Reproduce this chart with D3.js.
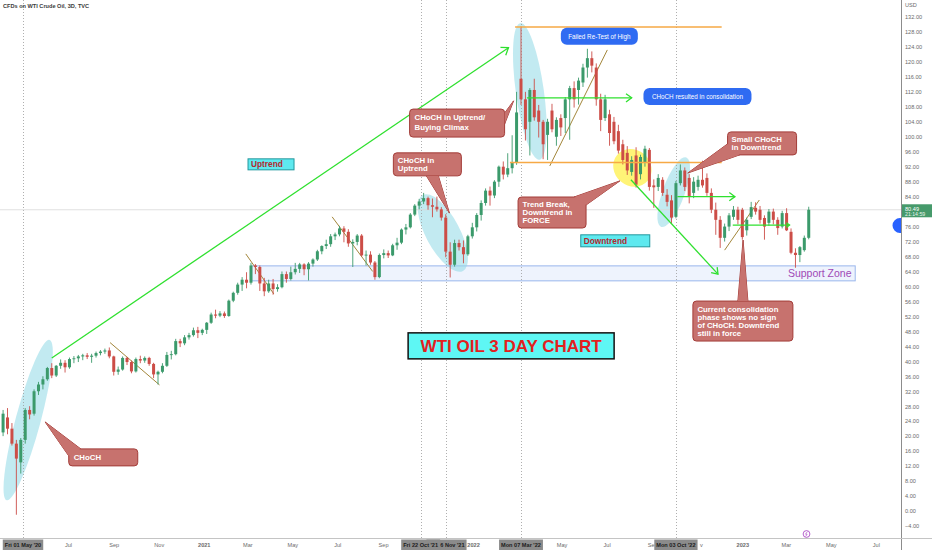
<!DOCTYPE html>
<html><head><meta charset="utf-8">
<script src="https://cdn.jsdelivr.net/npm/d3@7"></script>
<style>
html,body{margin:0;padding:0;background:#fff;}
svg{display:block;font-family:"Liberation Sans",Arial,sans-serif;}
</style></head><body>
<svg id="c" width="932" height="550"></svg>
<script>
// ---------------- DATA ----------------
const title = "CFDs on WTI Crude Oil, 3D, TVC";
const FIRST_BAR = "2020-04-04";   // open time of the first 3D bar shown
const BAR_DAYS = 6;               // calendar spacing of bars on the time axis
// [open, high, low, close]
const ohlc = [
[21,27,20,26],[25,27.5,20.5,22],[22,23.5,17.5,18],[18,19,-1,14],[13,19.5,10,19],[19,27.5,18,27],[27,28,24.5,25.8],[26,32.5,25.5,32],[32,34.5,31,33.8],[33.8,36,32.5,35.2],
[35.2,38.5,34.8,38.2],[38.2,39.5,35.5,36.2],[36.2,39,35.8,38.8],[38.8,40.5,38,39.6],[39.6,40.3,37,38.4],[38.4,41,38,40.6],[40.6,41.4,39.5,40.8],[40.8,41.7,39.8,41.3],[41.3,42,40.3,41.6],[41.6,42.2,40.6,41.2],
[41.2,42,39.6,41.5],[41.5,42.6,41,42.2],[42.2,43,41.6,42.6],[42.6,43.4,42,42.9],[42.9,43.7,40.8,41.3],[41.3,41.5,36.2,37.2],[37.2,38.6,36.4,37.8],[37.8,41.3,37.5,40.9],[40.9,41.2,39,39.8],[39.8,40.2,36.8,37.3],
[37.3,41,37,40.6],[40.6,41.5,39.5,40.2],[40.2,41.3,39.6,40.9],[40.9,41.2,38.8,39.3],[39.3,39.6,35.5,36.5],[36.5,37.5,33.8,37.2],[37.2,39.5,36.8,38.8],[38.8,42.5,38.5,41.7],[41.7,42.8,40.5,41.9],[41.9,46,41.6,45.4],
[45.4,46,43.8,44.8],[44.8,47,44.3,46.4],[46.4,47.6,45.8,47],[47,49,46.6,48.3],[48.3,49.2,46.2,47.6],[47.6,48.7,47,48.4],[48.4,50.5,47.3,50.3],[50.3,53,50,52.5],[52.5,53.8,51.5,52.2],[52.2,53.4,51.8,52.8],
[52.8,53.3,51.6,52.1],[52.1,56.5,51.9,56.2],[56.2,58.6,55.8,58.3],[58.3,61,57.8,60.5],[60.5,62.5,58.8,61.8],[61.8,63.8,59.5,61],[61,66.3,60.5,65.6],[65.6,66,63.3,65.2],[65.2,65.6,58.8,60.8],[60.8,62.3,57.4,58.7],
[58.7,61.8,58.3,60.8],[60.8,62,57.8,59.3],[59.3,60.6,58.6,59.8],[59.8,64,59.5,63.3],[63.3,64,61,62],[62,65.3,61.6,63.8],[63.8,66.3,63.2,64.7],[64.7,66.3,63.6,65.9],[65.9,66.2,63,64.6],[64.6,66.5,61.6,66.1],
[66.1,67.5,65.3,67.2],[67.2,69.8,66.8,69.4],[69.4,71,68.6,70.8],[70.8,72.5,70,71.3],[71.3,74,70.6,73.4],[73.4,74.4,72.4,73.9],[73.9,76.2,73.4,75.5],[75.5,76.1,71.8,74.6],[74.6,75.3,70.6,71.5],[71.5,72.6,65.2,71.9],
[71.9,74,71,73.6],[73.6,74,68,68.3],[68.3,69.6,65.6,68.5],[68.5,69.4,65.8,66.4],[66.4,66.8,61.8,62.5],[62.5,68.8,62.2,68.4],[68.4,69.9,67.5,68.9],[68.9,69.6,67.6,68.3],[68.3,71.4,68.1,71],[71,73,69.8,71.7],
[71.7,75.5,71.3,75.2],[75.2,76.7,73.9,75.8],[75.8,79.6,75.5,79.2],[79.2,82,78.8,81.6],[81.6,83.4,80.6,82.7],[82.7,85,82,83.6],[83.6,84,80.5,81.7],[81.7,83.5,78.5,81.3],[81.3,84,80,80.6],[80.6,81.2,77.6,78.4],
[78.4,79.3,67.8,69.3],[69.3,71.8,62.4,65.8],[65.8,72.5,65.3,71.6],[71.6,72.5,69.6,70.5],[70.5,72.3,66.2,68.6],[68.6,73.8,68.2,73.4],[73.4,77,72.8,75.8],[75.8,79.6,74.7,79.1],[79.1,83,77.6,82.3],[82.3,86.2,81.6,85.6],
[85.6,86.7,81.6,84.3],[84.3,88.4,83.6,88],[88,92.3,86.6,92],[92,93.4,88.6,89.9],[89.9,95.6,89.2,91.6],[91.6,100.4,90.2,93],[93,112,92.5,106.5],[115.5,129.5,108.5,110],[110,112,99,102],[104,113,95,112.5],
[112.5,115.5,104.3,105.2],[107,108.5,99.8,104],[104,104.5,94,98],[100.5,104.8,93.8,104],[107,108.8,101.2,102],[100,105.2,97.6,104.5],[105,106,100.2,102.5],[105,110.6,101,110],[110,113.6,99.2,113],[113,114.8,107.8,110],
[112.5,115.8,108.6,115],[114.5,119.5,113.3,118.5],[118.5,123.5,115.8,121],[121,122.8,117.2,119],[118.5,119.6,108.3,110],[110,111.5,101.5,104.5],[105,111.2,104.2,110],[106,107.2,97.6,101],[104,105.3,98,98.8],[101.5,103.2,95.5,96.3],
[98,99.2,92.6,93.8],[95.7,97.5,89.8,91],[90.6,94.8,89.6,93.8],[95,97.2,86.4,87.2],[90,95.2,88.6,94.6],[93,97.6,92,96.8],[96.5,97,85.6,86.6],[87,88.6,81,86.5],[86.6,90,85.5,89],[88.5,89.2,84.2,85],
[84.5,86,81.4,82.6],[83,84.4,76.8,78.4],[78.6,88.2,78.2,87.6],[87.6,92.6,87,91],[91,91.8,85.5,86.6],[89,90,82.2,84],[85,89.2,83.6,88],[86.6,89.6,85.6,88.5],[88.5,93.6,86.4,87],[89,90.2,84.2,85],
[85,86.2,79.6,80.5],[80.5,82.4,73.8,77.8],[77.8,78.8,70.3,73],[73,76.8,72,76],[76,79.6,74.8,79],[78.6,81.5,77.8,80.5],[80.5,81.3,76.6,77.8],[80.5,81,72.5,73.2],[75,78.4,73.6,77.8],[78.6,82.6,78,81.2],
[81,82.5,79.2,80],[80.5,81.5,76.8,77.8],[78.3,79,72.5,76],[77,80.7,76.2,80],[80,80.8,76.6,77.8],[77.8,78.5,73.8,75.6],[76,80.2,75.5,79.6],[79.6,80.9,74.8,75],[74.6,75.5,68.6,69],[69,70.2,65,68.4],
[68.4,70.8,66.5,70.5],[69.7,73.6,69.3,73],[73,81.3,72.6,80.5]
];
const lastPrice = 80.49;
const countdown = "21:14:59";
const priceTicks = [-4,0,4,8,12,16,20,24,28,32,36,40,44,48,52,56,60,64,68,72,76,84,88,92,96,100,104,108,112,116,120,124,128,132];
const timeTicks = [["2020-07-01","Jul"],["2020-09-01","Sep"],["2020-11-01","Nov"],["2021-01-01","2021"],["2021-03-01","Mar"],["2021-05-01","May"],["2021-07-01","Jul"],["2021-09-01","Sep"],["2021-11-01","Nov"],["2022-01-01","2022"],["2022-03-01","Mar"],["2022-05-01","May"],["2022-07-01","Jul"],["2022-09-01","Sep"],["2022-11-01","Nov"],["2023-01-01","2023"],["2023-03-01","Mar"],["2023-05-01","May"],["2023-07-01","Jul"]];
// drawn in this order (later ones on top)
const markedDates = [["2020-05-01","Fri 01 May '20"],["2021-11-26","Fri 26 Nov '21"],["2021-10-22","Fri 22 Oct '21"],["2022-03-07","Mon 07 Mar '22"],["2022-10-03","Mon 03 Oct '22"]];

// annotations, in (date, price) coordinates
const supportZone = {from:"2021-03-07", to:"2023-06-03", low:61.5, high:65.5, label:"Support Zone", labelAt:["2023-05-29",62.5]};
const greenArrows = [
  [["2020-06-09",40.9],["2022-02-18",123.8],8],
  [["2022-03-15",110.4],["2022-08-04",110.4],7],
  [["2022-08-03",88.5],["2022-11-29",63.3],7],
  [["2022-10-05",84],["2022-12-22",84],7],
  [["2022-12-19",76.4],["2023-03-06",76.4],4]
];
const orangeLines = [[["2022-02-27",129.3],["2022-12-04",129.3]],[["2022-02-20",93.1],["2022-12-04",93.1]]];
const trendLines = [
  [["2020-08-27",45],["2020-11-02",33.7]],
  [["2021-02-27",68.7],["2021-04-06",58]],
  [["2021-06-24",78.6],["2021-08-18",64]],
  [["2022-04-15",92.2],["2022-07-02",123.2]],
  [["2022-12-08",69.7],["2023-01-24",83.1]]
];
const ellipses = [ // center, rx, ry, rotation, colour
  [["2020-05-08",24.3],83,12.5,-75,"#8fd8e6"],
  [["2021-11-21",74.3],43,17,62,"#8fd8e6"],
  [["2022-03-19",112.1],69,14,82,"#8fd8e6"],
  [["2022-09-30",85.2],37,11,-70,"#8fd8e6"],
  [["2022-08-05",91.7],20,18,40,"#fff04a"]
];
const callouts = [ // top-left, w, h, tip, pointer base (px offsets), lines
  {tl:["2020-07-02",16.6], w:69,h:17, tip:["2020-05-31",23.8], base:[[0,7],[12,0]], lines:["CHoCH"], pad:5, first:11.3, lh:8},
  {tl:["2021-10-07",107.4], w:95,h:28, tip:["2022-02-25",109.6], base:[[95,4],[95,15]], lines:["CHoCH in Uptrend/","Buying Climax"], pad:5, first:11,lh:9.5},
  {tl:["2021-09-15",95.7], w:68,h:23, tip:["2021-11-30",79.6], base:[[33,23],[45,23]], lines:["CHoCH in","Uptrend"], pad:4.5, first:10.5, lh:7.7},
  {tl:["2022-03-03",83.9], w:68,h:31, tip:["2022-07-19",88.2], base:[[56,0],[68,8]], lines:["Trend Break,","Downtrend in","FORCE"], pad:4.5, first:9.8, lh:8},
  {tl:["2022-12-12",101.3], w:69,h:23, tip:["2022-10-19",90.3], base:[[0,12],[12,23]], lines:["Small CHoCH","in Downtrend"], pad:4, first:10, lh:8},
  {tl:["2022-10-26",56.1], w:100,h:40, tip:["2023-01-02",72.4], base:[[45,0],[55,0]], lines:["Current consolidation","phase shows no sign","of CHoCH. Downtrend","still in force"], pad:4.5, first:11, lh:8}
];
const bluePills = [
  {tl:["2022-04-30",129.1], w:77,h:17, text:"Failed Re-Test of High"},
  {tl:["2022-08-20",113], w:108,h:17, text:"CHoCH resulted in consolidation"}
];
const cyanLabels = [
  {tl:["2021-03-02",94.1], w:46,h:11, text:"Uptrend", fs:8.3},
  {tl:["2022-05-27",73.8], w:69,h:12, text:"Downtrend", fs:8.3}
];
const bigTitle = {tl:["2021-10-05",47.6], w:206, h:26, text:"WTI OIL 3 DAY CHART"};
const verticalMarks = ["2020-05-01","2021-10-22","2021-11-26","2022-03-07","2022-10-03"];

// ---------------- SCALES ----------------
const svg = d3.select("#c");
const PR = 901, PB = 538;
const parse = d3.utcParse("%Y-%m-%d");
const x = d3.scaleUtc().domain([parse("2020-05-01"), parse("2022-03-07")]).range([23, 521]);
const y = d3.scaleLinear().domain([0, 132]).range([511, 17]);
const at = (d, p) => [x(parse(d)), y(p)];
const first = parse(FIRST_BAR);
const bars = ohlc.map((v, i) => ({t: d3.utcDay.offset(first, i * BAR_DAYS), o:v[0], h:v[1], l:v[2], c:v[3]}));

svg.append("rect").attr("width",932).attr("height",550).attr("fill","#fff");
svg.append("defs").append("clipPath").attr("id","plot").append("rect").attr("width",PR).attr("height",PB);
const plot = svg.append("g").attr("clip-path","url(#plot)");

// support zone
{
  const a = at(supportZone.from, supportZone.high), b = at(supportZone.to, supportZone.low);
  plot.append("rect").attr("x",a[0]).attr("y",a[1]).attr("width",b[0]-a[0]).attr("height",b[1]-a[1])
    .attr("fill","rgba(90,140,240,0.10)").attr("stroke","#9ab6ec").attr("stroke-width",1);
}
// ellipses
ellipses.forEach(e => {
  const c = at(...e[0]);
  plot.append("ellipse").attr("cx",c[0]).attr("cy",c[1]).attr("rx",e[1]).attr("ry",e[2])
    .attr("transform",`rotate(${e[3]} ${c[0]} ${c[1]})`).attr("fill",e[4]).attr("opacity", e[4]==="#fff04a"?0.75:0.55);
});
// vertical dotted marks
verticalMarks.forEach(d => {
  const xx = Math.round(x(parse(d))) + 0.5;
  plot.append("line").attr("x1",xx).attr("x2",xx).attr("y1",0).attr("y2",PB)
    .attr("stroke","#9a9a9a").attr("stroke-width",0.8).attr("stroke-dasharray","1,2");
});
// last price line
plot.append("line").attr("x1",0).attr("x2",PR).attr("y1",y(lastPrice)).attr("y2",y(lastPrice))
  .attr("stroke","#d8d8d8").attr("stroke-width",0.8);

// trend lines (brown)
trendLines.forEach(l => {
  const a = at(...l[0]), b = at(...l[1]);
  plot.append("line").attr("x1",a[0]).attr("y1",a[1]).attr("x2",b[0]).attr("y2",b[1])
    .attr("stroke","#a3863a").attr("stroke-width",1);
});

// candles
const UP = "#3b9a6b", DN = "#cc4d47", bw = 3;
const cg = plot.append("g");
cg.selectAll("line").data(bars).join("line")
  .attr("x1",d=>x(d.t)).attr("x2",d=>x(d.t)).attr("y1",d=>y(d.h)).attr("y2",d=>y(d.l))
  .attr("stroke",d=>d.c>=d.o?UP:DN).attr("stroke-width",0.9);
cg.selectAll("rect").data(bars).join("rect")
  .attr("x",d=>x(d.t)-bw/2).attr("width",bw)
  .attr("y",d=>y(Math.max(d.o,d.c))).attr("height",d=>Math.max(0.9, Math.abs(y(d.o)-y(d.c))))
  .attr("fill",d=>d.c>=d.o?UP:DN);

// orange lines
orangeLines.forEach(l => {
  const a = at(...l[0]), b = at(...l[1]);
  plot.append("line").attr("x1",a[0]).attr("y1",a[1]).attr("x2",b[0]).attr("y2",b[1])
    .attr("stroke","#f6a945").attr("stroke-width",1.5);
});
// green arrows
function arrow(p0, p1, head){
  const g = plot.append("g").attr("stroke","#2fe02f").attr("stroke-width",1.3).attr("fill","none");
  g.append("line").attr("x1",p0[0]).attr("y1",p0[1]).attr("x2",p1[0]).attr("y2",p1[1]);
  const ang = Math.atan2(p1[1]-p0[1], p1[0]-p0[0]);
  const a1 = ang + Math.PI*0.8, a2 = ang - Math.PI*0.8;
  g.append("path").attr("d",`M${p1[0]+head*Math.cos(a1)},${p1[1]+head*Math.sin(a1)}L${p1[0]},${p1[1]}L${p1[0]+head*Math.cos(a2)},${p1[1]+head*Math.sin(a2)}`);
}
greenArrows.forEach(a => arrow(at(...a[0]), at(...a[1]), a[2]));

// support zone label
{
  const p = at(...supportZone.labelAt);
  plot.append("text").attr("x",p[0]).attr("y",p[1]).attr("text-anchor","end")
    .attr("font-size",10.5).attr("fill","#a049b6").text(supportZone.label);
}

// callouts
const CF = "#c7726e", CS = "#a33c38";
callouts.forEach(c => {
  const tl = at(...c.tl), tip = at(...c.tip);
  const b0 = [tl[0]+c.base[0][0], tl[1]+c.base[0][1]], b1 = [tl[0]+c.base[1][0], tl[1]+c.base[1][1]];
  const tri = `M${b0[0]},${b0[1]}L${tip[0]},${tip[1]}L${b1[0]},${b1[1]}Z`;
  plot.append("path").attr("d",tri).attr("fill",CF).attr("stroke",CS).attr("stroke-width",1);
  plot.append("rect").attr("x",tl[0]).attr("y",tl[1]).attr("width",c.w).attr("height",c.h).attr("rx",3.5)
    .attr("fill",CF).attr("stroke",CS).attr("stroke-width",1);
  plot.append("path").attr("d",tri).attr("fill",CF);
  c.lines.forEach((t,i) => plot.append("text").attr("x",tl[0]+c.pad).attr("y",tl[1]+c.first+i*c.lh)
    .attr("font-size",7.8).attr("font-weight","bold").attr("fill","#fff").text(t));
});
// blue pills
bluePills.forEach(p => {
  const tl = at(...p.tl);
  plot.append("rect").attr("x",tl[0]).attr("y",tl[1]).attr("width",p.w).attr("height",p.h).attr("rx",6)
    .attr("fill","#2f6bf2");
  plot.append("text").attr("x",tl[0]+p.w/2).attr("y",tl[1]+p.h/2+2.2).attr("text-anchor","middle")
    .attr("font-size",6.3).attr("fill","#fff").text(p.text);
});
// cyan labels
cyanLabels.forEach(p => {
  const tl = at(...p.tl);
  plot.append("rect").attr("x",tl[0]).attr("y",tl[1]).attr("width",p.w).attr("height",p.h)
    .attr("fill","#5ee9ef").attr("stroke","#23979d").attr("stroke-width",1);
  plot.append("text").attr("x",tl[0]+3).attr("y",tl[1]+p.h/2+3).attr("font-size",p.fs).attr("font-weight","bold")
    .attr("fill","#b3282d").text(p.text);
});
// big title box
{
  const tl = at(...bigTitle.tl);
  plot.append("rect").attr("x",tl[0]).attr("y",tl[1]).attr("width",bigTitle.w).attr("height",bigTitle.h)
    .attr("fill","#5ef7f4").attr("stroke","#111").attr("stroke-width",1.5);
  plot.append("text").attr("x",tl[0]+bigTitle.w/2).attr("y",tl[1]+bigTitle.h/2+6).attr("text-anchor","middle")
    .attr("font-size",17).attr("font-weight","bold").attr("fill","#e3201e").text(bigTitle.text);
}

// header
svg.append("text").attr("x",3).attr("y",8).attr("font-size",5.6).attr("font-weight","bold").attr("fill","#3a3a3a").text(title);

// ---------------- AXES ----------------
svg.append("line").attr("x1",PR+0.5).attr("x2",PR+0.5).attr("y1",0).attr("y2",550).attr("stroke","#8c8c8c").attr("stroke-width",1);
svg.append("line").attr("x1",0).attr("x2",932).attr("y1",PB+0.5).attr("y2",PB+0.5).attr("stroke","#c4c4c4").attr("stroke-width",1.2);

const ya = svg.append("g").attr("transform",`translate(${PR},0)`)
  .call(d3.axisRight(y).tickValues(priceTicks).tickFormat(d3.format(".2f")).tickSize(0).tickPadding(4));
ya.select(".domain").remove();
ya.selectAll("text").attr("font-size",5.6).attr("fill","#6b6b6b").attr("font-family","Liberation Sans, Arial, sans-serif");
svg.append("text").attr("x",905).attr("y",7).attr("font-size",5.6).attr("fill","#6b6b6b").text("USD");

const tickMap = new Map(timeTicks.map(t => [+parse(t[0]), t[1]]));
const xa = svg.append("g").attr("transform",`translate(0,${PB})`)
  .call(d3.axisBottom(x).tickValues(timeTicks.map(t=>parse(t[0]))).tickFormat(d=>tickMap.get(+d)).tickSize(0).tickPadding(5));
xa.select(".domain").remove();
xa.selectAll("text").attr("font-size",5.6).attr("fill","#6b6b6b").attr("font-family","Liberation Sans, Arial, sans-serif")
  .attr("font-weight",d=>/^\d{4}$/.test(tickMap.get(+d))?"bold":"normal");

// trims a text so that it no longer runs under a box spanning [L, R] (as the TradingView labels hide what lies beneath)
function hideUnder(node, L, R){
  if (!node.parentNode) return;
  const b = node.getBoundingClientRect();
  const overlap = Math.min(b.right, R) - Math.max(b.left, L);
  if (overlap < 2) return;
  if (b.left >= L - 0.5 && b.right <= R + 0.5) { node.remove(); return; }
  const sel = d3.select(node);
  const x0 = +sel.attr("x") || 0;
  if ((b.left + b.right) / 2 < (L + R) / 2) {
    sel.attr("text-anchor","start").attr("x", x0);
    const nb = node.getBoundingClientRect();
    sel.attr("x", x0 + (b.left - nb.left));
    let s = node.textContent;
    while (s.length && node.getBoundingClientRect().right > L + 0.5) { s = s.slice(0,-1).trimEnd(); node.textContent = s; }
  } else {
    sel.attr("text-anchor","end").attr("x", x0);
    const nb = node.getBoundingClientRect();
    sel.attr("x", x0 + (b.right - nb.right));
    let s = node.textContent;
    while (s.length && node.getBoundingClientRect().left < R - 0.5) { s = s.slice(1).trimStart(); node.textContent = s; }
  }
  if (!node.textContent.length) node.remove();
}

// marked date labels on time axis
const boxes = [];
markedDates.forEach(m => {
  const cx = x(parse(m[0]));
  const g = svg.append("g");
  const r = g.append("rect").attr("y",PB+1.5).attr("height",11.5).attr("fill","#8b8b8b");
  const t = g.append("text").attr("x",cx).attr("y",PB+8.5).attr("text-anchor","middle").attr("font-size",5.6)
    .attr("font-weight","bold").attr("fill","#1c1c1c").text(m[1]);
  const w = t.node().getComputedTextLength() + 4;
  r.attr("x",cx-w/2).attr("width",w);
  // labels drawn earlier are covered by this one
  boxes.forEach(bx => hideUnder(bx.text, cx - w/2, cx + w/2));
  xa.selectAll("text").each(function(){ hideUnder(this, cx - w/2, cx + w/2); });
  boxes.push({text: t.node()});
});

// last price label
{
  const yy = y(lastPrice);
  svg.append("rect").attr("x",PR+1).attr("y",yy-5.5).attr("width",31).attr("height",13).attr("fill","#469a6b");
  svg.append("text").attr("x",905).attr("y",yy+1.2).attr("font-size",5.6).attr("fill","#fff").text(d3.format(".2f")(lastPrice));
  svg.append("text").attr("x",905).attr("y",yy+6.5).attr("font-size",5.2).attr("fill","#e8f5ec").text(countdown);
  const yb = y(76.3);
  svg.append("path").attr("d",`M${PR},${yb-7.5}h-1a7.5,7.5 0 0 0 0,15h1z`).attr("fill","#2962ff");
}
// purple event marker
{
  const cx = x(parse("2023-03-29"));
  svg.append("circle").attr("cx",cx).attr("cy",PB-4).attr("r",3.4).attr("fill","#fff").attr("stroke","#a43bc0").attr("stroke-width",0.8);
  svg.append("path").attr("d",`M${cx+0.8},${PB-6.3}L${cx-1},${PB-3.8}L${cx+0.6},${PB-3.8}L${cx-0.8},${PB-1.6}`)
    .attr("fill","none").attr("stroke","#a43bc0").attr("stroke-width",0.6);
}
</script>
</body></html>
